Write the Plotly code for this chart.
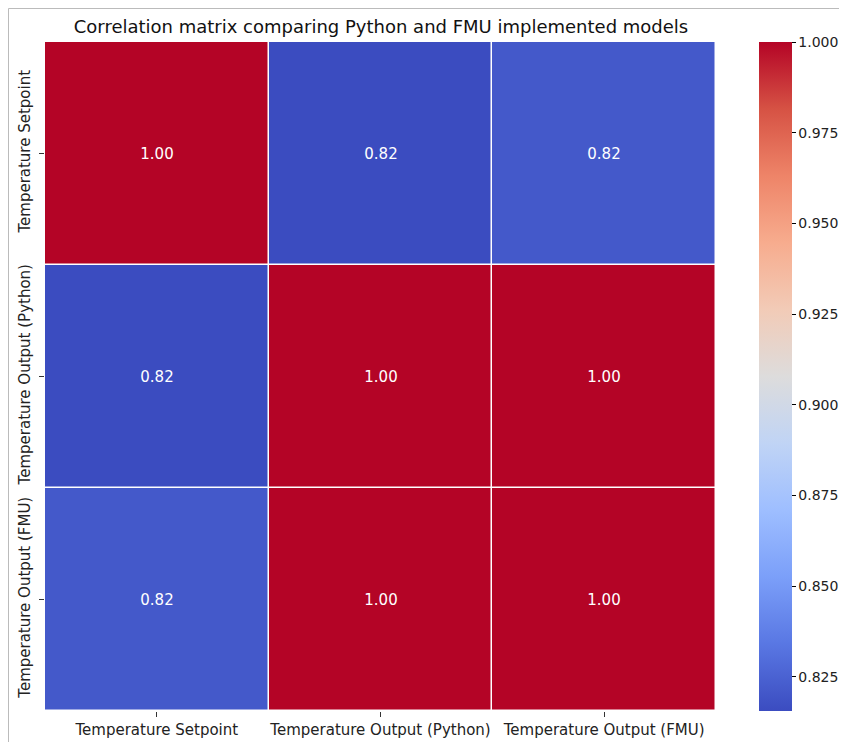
import plotly.graph_objects as go

labels = ["Temperature Setpoint", "Temperature Output (Python)", "Temperature Output (FMU)"]
row_setpoint = [1.0, 0.8156, 0.8211]
row_python = [0.8156, 1.0, 0.99995]
row_fmu = [0.8211, 0.99995, 1.0]
corr = [row_setpoint, row_python, row_fmu]

cbar_ticks = [0.825, 0.850, 0.875, 0.900, 0.925, 0.950, 0.975, 1.000]

# matplotlib "coolwarm" sampled at 11 points
coolwarm = ["#3b4cc0", "#5977e3", "#7b9ff9", "#9ebeff", "#c0d4f5", "#dddcdc",
            "#f2cbb7", "#f7ac8e", "#ee8468", "#d65244", "#b40426"]
cscale = [[i / 10, c] for i, c in enumerate(coolwarm)]

# the page body has an 8px margin: figure is 8px smaller, coords shifted
OFF = 8
W, H = 847 - OFF, 742 - OFF
L, R, T, B = 45 - OFF, 716 - OFF, 42 - OFF, 711 - OFF
pw, ph = R - L, B - T


def px_x(x):
    # x in page pixels -> paper coords
    return (x - OFF - L) / pw


def px_y(y):
    return (B - (y - OFF)) / ph


fig = go.Figure(go.Heatmap(
    z=corr, x=labels, y=labels,
    colorscale=cscale, zmin=0.8156, zmax=1.0,
    xgap=1.5, ygap=1.5,
    texttemplate="%{z:.2f}", textfont=dict(color="white", size=15),
    colorbar=dict(
        x=px_x(759), xanchor="left", xpad=0, y=0.5, yanchor="middle",
        len=1, lenmode="fraction", thickness=33, outlinewidth=0,
        tickvals=cbar_ticks, tickformat=".3f", ticks="outside", ticklen=4,
        tickcolor="black", tickfont=dict(size=14, color="#222"), ypad=0,
    ),
))

fig.update_layout(
    width=W, height=H,
    margin=dict(l=L, r=W - R, t=T, b=H - B, autoexpand=False),
    paper_bgcolor="white", plot_bgcolor="white",
    font=dict(family="DejaVu Sans", color="#222"),
    title=dict(text="Correlation matrix comparing Python and FMU implemented models",
               x=(381 - OFF) / W, xanchor="center", y=1 - (27 - OFF) / H, yanchor="middle",
               font=dict(size=18, color="#111")),
    xaxis=dict(showgrid=False, zeroline=False, ticks="outside", ticklen=5,
               tickcolor="#333", tickfont=dict(size=15), automargin=False),
    yaxis=dict(showgrid=False, zeroline=False, ticks="outside", ticklen=5,
               tickcolor="#333", tickfont=dict(size=15), autorange="reversed",
               tickangle=-90, automargin=False, ticklabelstandoff=3),
    shapes=[
        dict(type="line", xref="paper", yref="paper", x0=px_x(8.5), x1=px_x(847),
             y0=px_y(8.5), y1=px_y(8.5), line=dict(color="#bbbbbb", width=1)),
        dict(type="line", xref="paper", yref="paper", x0=px_x(8.5), x1=px_x(8.5),
             y0=px_y(8.5), y1=px_y(742), line=dict(color="#bbbbbb", width=1)),
    ],
)

fig.write_html("out.html")
